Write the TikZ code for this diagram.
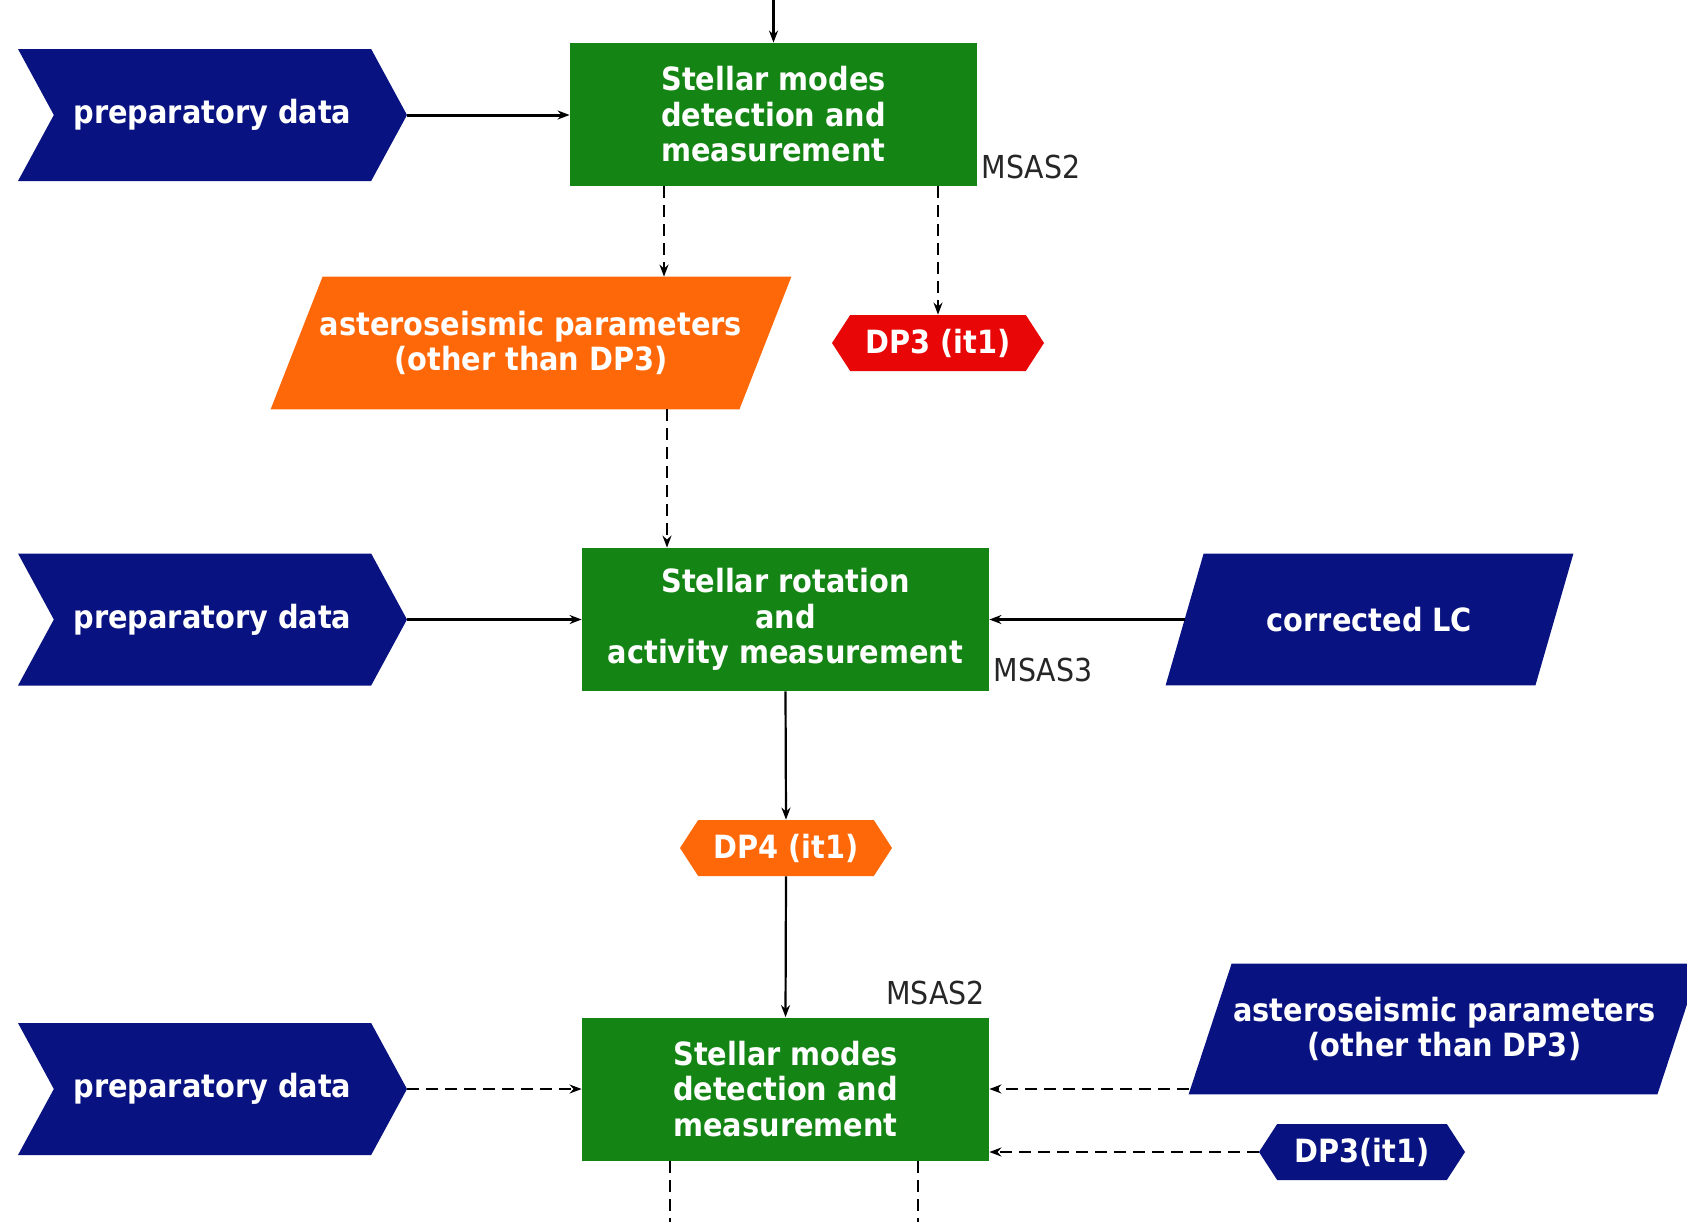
\documentclass[tikz,border=0pt]{standalone}
\usepackage{fontspec}
\setmainfont{DejaVu Sans Condensed}
\usetikzlibrary{arrows.meta,shapes.symbols,backgrounds}
\definecolor{procgreen}{RGB}{20,132,20}
\definecolor{datanavy}{RGB}{8,18,128}
\definecolor{prodorange}{RGB}{255,104,8}
\definecolor{prodred}{RGB}{232,6,6}
\tikzset{
  txt/.style={text=white,font=\bfseries\fontsize{16}{17.75}\selectfont,align=center,inner sep=0pt},
  process/.style={txt,rectangle,fill=procgreen,minimum width=203.5pt,minimum height=71.5pt},
  inputarrow/.style={txt,signal,signal from=west,signal to=east,signal pointer angle=123,
    fill=datanavy,minimum width=194.5pt,minimum height=66pt},
  product/.style={txt,signal,signal to=east and west,signal pointer angle=114,
    minimum width=106pt,minimum height=28pt},
  slanted/.style={txt,rectangle},
  tag/.style={font=\fontsize{15.8}{18}\selectfont,inner sep=0pt,text=black!85},
  conn/.style={line width=1.1pt,-{Stealth[length=6pt,width=4.5pt]}},
  dconn/.style={conn,dash pattern=on 6pt off 3.5pt}
}
% parallelogram filling the box of node #2, top edge shifted right by #3
\newcommand\slantfill[3]{%
  \fill[#1] ([xshift=#3]#2.north west) -- (#2.north east) -- ([xshift=-#3]#2.south east)
    -- (#2.south west) -- cycle;}
\begin{document}
\begin{tikzpicture}[x=0.5pt,y=-0.5pt]
\useasboundingbox (0,0) rectangle (1687,1222);
\clip (0,0) rectangle (1687,1222);

% first mode-detection step
\node[process] (modesA) at (773.5,114.5) {Stellar modes\\detection and\\measurement};
\node[inputarrow] (prepA) at (212.5,115) {preparatory data};
\node[slanted,minimum width=260pt,minimum height=66pt] (astA) at (531,343)
  {asteroseismic parameters\\(other than DP3)};
\node[product,fill=prodred] (dpA) at (938,343) {DP3 (it1)};
\node[tag,anchor=base west] (msasA) at ([xshift=2pt,yshift=4pt]modesA.south east) {MSAS2};

% rotation and activity step
\node[process] (rot) at (785.5,619.5) {Stellar rotation\\and\\activity measurement};
\node[inputarrow] (prepB) at (212.5,619.5) {preparatory data};
\node[slanted,minimum width=203.5pt,minimum height=65.5pt] (lc) at (1369.5,619.5)
  {corrected LC};
\node[tag,anchor=base west] (msasB) at ([xshift=2pt,yshift=5pt]rot.south east) {MSAS3};
\node[product,fill=prodorange] (dpB) at (786,848) {DP4 (it1)};

% second mode-detection step
\node[process] (modesB) at (785.5,1089) {Stellar modes\\detection and\\measurement};
\node[inputarrow] (prepC) at (212.5,1089) {preparatory data};
\node[slanted,minimum width=255.5pt,minimum height=65pt] (astB) at (1444.5,1029)
  {asteroseismic parameters\\(other than DP3)};
\node[product,fill=datanavy,minimum width=103pt] (dpC) at (1362,1152) {DP3(it1)};
\node[tag,anchor=base east] (msasC) at ([xshift=-2pt,yshift=6.5pt]modesB.north east) {MSAS2};

% parallelogram data symbols behind their labels
\begin{scope}[on background layer]
  \slantfill{prodorange}{astA}{26pt}
  \slantfill{datanavy}{lc}{19pt}
  \slantfill{datanavy}{astB}{21.5pt}
\end{scope}

% loose ends
\coordinate (inTop) at (773.5,0);
\coordinate (outL) at (670,1222);
\coordinate (outR) at (918,1222);

% connectors
\draw[conn] (inTop) -- (modesA.north);
\draw[conn,line width=1.5pt] (prepA.east) -- (prepA.east -| modesA.west);
\draw[dconn] ([xshift=-54.75pt]modesA.south) -- ([xshift=-54.75pt]modesA.south |- astA.north);
\draw[dconn] (dpA.north |- modesA.south) -- (dpA.north);
\draw[dconn] ([xshift=68pt]astA.south) -- ([xshift=68pt]astA.south |- rot.north);
\draw[conn] (prepB.east) -- (prepB.east -| rot.west);
\draw[conn] ([xshift=9.5pt]lc.west) -- (lc.west -| rot.east);
\draw[conn] (rot.south) -- (dpB.north);
\draw[conn] (dpB.south) -- (modesB.north);
\draw[dconn] (prepC.east) -- (prepC.east -| modesB.west);
\draw[dconn] (astB.south west |- modesB.east) -- (modesB.east);
\draw[dconn] (dpC.west) -- (dpC.west -| modesB.east);
\draw[dconn,-] (outL |- modesB.south) -- (outL);
\draw[dconn,-] (outR |- modesB.south) -- (outR);
\end{tikzpicture}
\end{document}
